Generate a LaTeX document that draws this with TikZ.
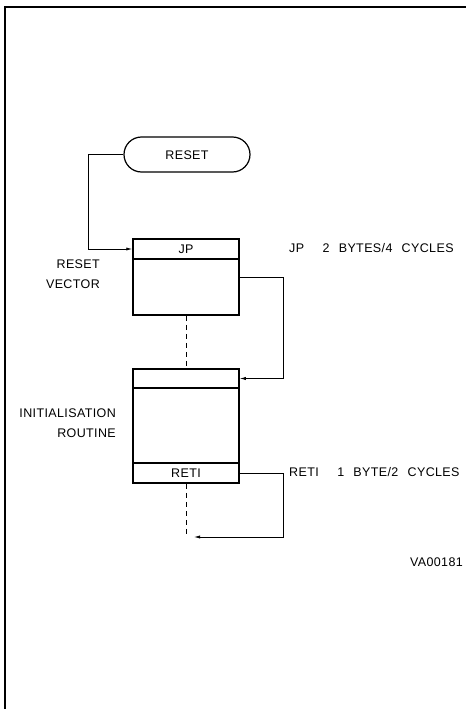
\documentclass[tikz,border=0pt]{standalone}
\usepackage{fontspec}
\setmainfont{Liberation Sans}[LetterSpace=3,WordSpace=2.4]
\usetikzlibrary{arrows.meta}
\begin{document}
\begin{tikzpicture}[x=1pt,y=-1pt,
  every node/.style={font=\fontsize{12.5}{20}\selectfont},
  box/.style={draw,line width=1.5pt,minimum width=106pt,inner sep=0pt,text height=9pt,text depth=0pt},
  term/.style={draw,line width=1.2pt,minimum width=126pt,minimum height=35pt,rounded corners=17.5pt,inner sep=0pt,text height=9pt,text depth=0pt},
  lbl/.style={inner sep=0pt,text height=9pt,text depth=0pt},
  conn/.style={line width=0.8pt},
  arr/.style={conn,-{Latex[length=6pt,width=3.2pt]}},
  dsh/.style={line width=0.8pt,dash pattern=on 5pt off 4pt}]
\useasboundingbox (0,0) rectangle (466,709);
\draw[line width=1.2pt] (5,709) -- (5,7) -- (466,7);

\node[term] (reset) at (187,154.5) {RESET};
\node[box,minimum height=20pt] (jp) at (186,249) {JP};
\node[box,minimum height=56pt] (body1) at (186,287) {};
\node[box,minimum height=19pt] (top2) at (186,378.5) {};
\node[box,minimum height=75pt] (body2) at (186,425.5) {};
\node[box,minimum height=20pt] (reti) at (186,473) {RETI};

\node[lbl,align=right,anchor=east] (rv) at (100,284) {RESET\\VECTOR};
\node[lbl,align=right,anchor=east] (ir) at (116,433) {INITIALISATION\\ROUTINE};
\node[lbl,anchor=west] (jpl) at (289,248) {JP\ \ 2 BYTES/4 CYCLES};
\node[lbl,anchor=west] (retil) at (289,472) {RETI\ \ 1 BYTE/2 CYCLES};
\node[lbl,anchor=east] (va) at (463,562) {VA00181};

\coordinate (lx) at (88,0);
\coordinate (rx) at (283,0);
\coordinate (o1) at ([yshift=10pt]body1.east);
\coordinate (endd) at (186,537);
\coordinate (endc) at (194,537);

\draw[arr] (reset.west) -| (lx |- jp.west) -- (jp.west);
\draw[arr] (o1) -| (rx |- top2.east) -- (top2.east);
\draw[arr] (reti.east) -| (rx |- endc) -- (endc);
\draw[dsh] (body1.south) -- (top2.north);
\draw[dsh] (reti.south) -- (endd);
\end{tikzpicture}
\end{document}
